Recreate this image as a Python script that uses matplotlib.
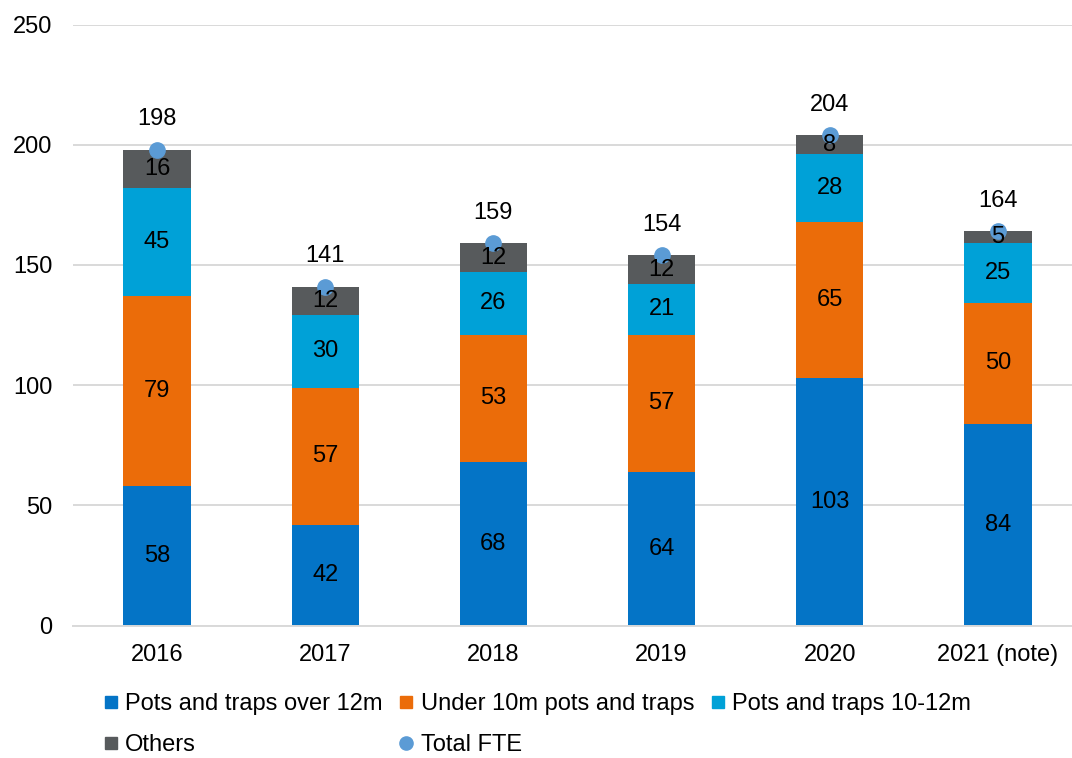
import matplotlib
matplotlib.use("Agg")
import matplotlib.pyplot as plt
from matplotlib.lines import Line2D
import numpy as np

plt.rcParams['font.family'] = ['Liberation Sans', 'DejaVu Sans']

years = ["2016", "2017", "2018", "2019", "2020", "2021 (note)"]
over12 = [58, 42, 68, 64, 103, 84]
under10 = [79, 57, 53, 57, 65, 50]
m10_12 = [45, 30, 26, 21, 28, 25]
others = [16, 12, 12, 12, 8, 5]
total_fte = [198, 141, 159, 154, 204, 164]

series = [
    ("Pots and traps over 12m", over12, "#0474C6"),
    ("Under 10m pots and traps", under10, "#EB6C09"),
    ("Pots and traps 10-12m", m10_12, "#00A1D7"),
    ("Others", others, "#575A5C"),
]
dot_color = "#5B9BD5"
FS = 17

W, H = 1072, 758
fig = plt.figure(figsize=(W / 100, H / 100), dpi=100)
ax_left, ax_right = 73, 1082
ax_bottom, ax_top = 758 - 625.5, 758 - 24.5
ax = fig.add_axes([ax_left / W, ax_bottom / H, (ax_right - ax_left) / W, (ax_top - ax_bottom) / H])

x = np.arange(len(years))
bottom = np.zeros(len(years))
for name, vals, col in series:
    vals = np.array(vals, dtype=float)
    ax.bar(x, vals, width=0.4, bottom=bottom, color=col, zorder=2)
    for xi, b, v in zip(x, bottom, vals):
        ax.text(xi, b + v / 2, f"{int(v)}", ha="center", va="center", fontsize=FS, color="black", zorder=4)
    bottom += vals

ax.plot(x, total_fte, linestyle="none", marker="o", markersize=11, color=dot_color, zorder=3)
for xi, t in zip(x, total_fte):
    ax.annotate(f"{t}", (xi, t), xytext=(0, 22), textcoords="offset points",
                ha="center", va="center", fontsize=FS, color="black")

ax.set_xlim(-0.5, len(years) - 0.5)
ax.set_ylim(0, 250)
ax.set_yticks([0, 50, 100, 150, 200, 250])
ax.set_xticks(x)
ax.set_xticklabels(years)
ax.tick_params(axis="both", length=0, labelsize=FS)
ax.tick_params(axis="y", pad=15)
ax.tick_params(axis="x", pad=13)
ax.grid(axis="y", color="#D9D9D9", linewidth=1.4, zorder=0)
ax.set_axisbelow(True)
for s in ["top", "right", "left"]:
    ax.spines[s].set_visible(False)
ax.spines["bottom"].set_color("#D9D9D9")
ax.spines["bottom"].set_linewidth(1.4)

# legend: order so rows read A B C / D E
h = {name: Line2D([], [], linestyle="none", marker="s", markersize=8.6, color=col)
     for name, _, col in series}
h_tot = Line2D([], [], linestyle="none", marker="o", markersize=9.5, color=dot_color)
handles = [h["Pots and traps over 12m"], h["Others"],
           h["Under 10m pots and traps"], h_tot,
           h["Pots and traps 10-12m"]]
labels = ["Pots and traps over 12m", "Others",
          "Under 10m pots and traps", "Total FTE",
          "Pots and traps 10-12m"]
fig.legend(handles, labels, ncol=3, loc="upper left",
           bbox_to_anchor=(104 / W, (758 - 693) / H),
           frameon=False, fontsize=FS, handlelength=0.6, handletextpad=0.3,
           columnspacing=0.7, labelspacing=0.82, borderpad=0, borderaxespad=0)

fig.savefig("out.png", dpi=100)
